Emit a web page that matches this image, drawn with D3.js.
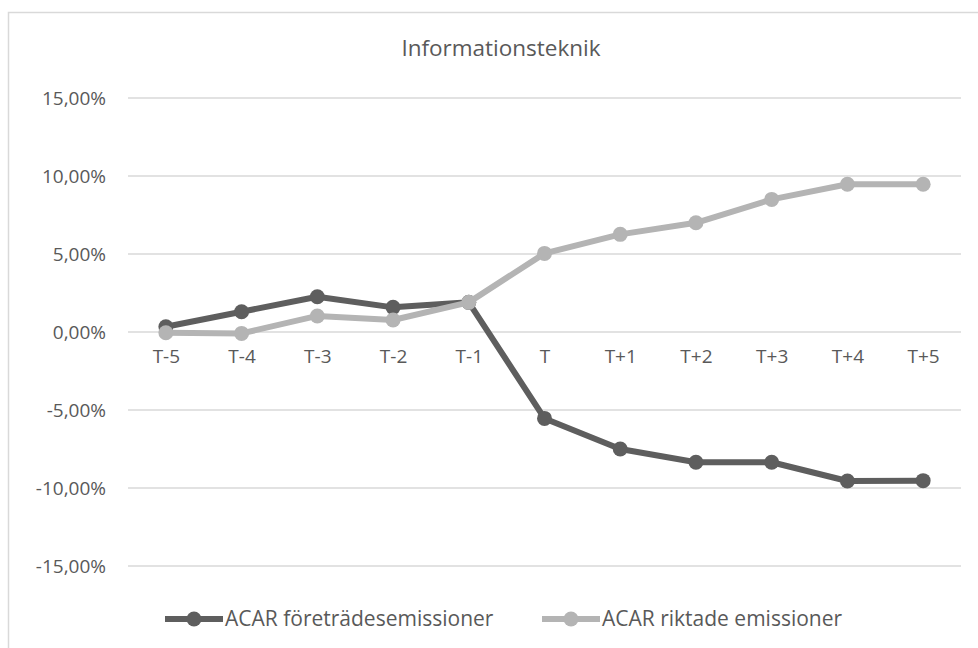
<!DOCTYPE html>
<html>
<head>
<meta charset="utf-8">
<script src="https://cdn.jsdelivr.net/npm/d3@7"></script>
<style>
    body { margin: 0; background: #fff; }
    text { font-family: "Open Sans", sans-serif; fill: #595959; }
</style>
</head>
<body>
<div id="box-div"></div>
<script>
// data
const categories = ['T-5', 'T-4', 'T-3', 'T-2', 'T-1', 'T', 'T+1', 'T+2', 'T+3', 'T+4', 'T+5']
const foretrade = [0.34, 1.30, 2.26, 1.58, 1.90, -5.54, -7.50, -8.35, -8.35, -9.55, -9.53]
const riktade = [-0.05, -0.09, 1.03, 0.77, 1.90, 5.04, 6.26, 7.00, 8.50, 9.47, 9.47]
const yTicks = [-15, -10, -5, 0, 5, 10, 15]
const seriesNames = ['ACAR företrädesemissioner', 'ACAR riktade emissioner']
const seriesColors = ['#5e5e5e', '#b4b4b4']
const title = 'Informationsteknik'

let dms = {
    width: 978,
    height: 648,
    plot: { left: 128, right: 961, top: 98, bottom: 566 }
}

const box = d3.select('#box-div').append('svg')
    .attr('width', dms.width)
    .attr('height', dms.height)

// chart border
box.append('rect')
    .attr('x', 8.5)
    .attr('y', 12.5)
    .attr('width', 1000)
    .attr('height', 700)
    .attr('fill', 'none')
    .attr('stroke', '#d9d9d9')
    .attr('stroke-width', 1.5)

box.append('text')
    .attr('x', 501)
    .attr('y', 56)
    .attr('text-anchor', 'middle')
    .style('font-size', '22.5px')
    .text(title)

const xScale = d3.scalePoint()
    .domain(categories)
    .range([dms.plot.left, dms.plot.right])
    .padding(0.5)

const yScale = d3.scaleLinear()
    .domain([-15, 15])
    .range([dms.plot.bottom, dms.plot.top])

// gridlines
box.append('g')
    .selectAll('line')
    .data(yTicks)
    .join('line')
    .attr('x1', dms.plot.left)
    .attr('x2', dms.plot.right)
    .attr('y1', d => yScale(d))
    .attr('y2', d => yScale(d))
    .attr('stroke', '#d9d9d9')
    .attr('stroke-width', 1.5)

const fmt = d => d3.format('.2f')(d).replace('.', ',').replace('−', '-') + '%'

const yAxis = box.append('g')
    .attr('transform', `translate(${dms.plot.left - 22}, 0)`)
    .call(d3.axisLeft(yScale).tickValues(yTicks).tickFormat(fmt).tickSize(0))
yAxis.select('.domain').remove()
yAxis.selectAll('text')
    .attr('fill', '#595959')
    .style('font-size', '19px')
    .attr('x', 0)

const xAxis = box.append('g')
    .attr('transform', `translate(0, ${yScale(0) + 25})`)
    .call(d3.axisBottom(xScale).tickSize(0))
xAxis.select('.domain').remove()
xAxis.selectAll('text')
    .attr('fill', '#595959')
    .style('font-size', '19px')
    .attr('y', 0)
    .attr('dy', '0.32em')

const series = [foretrade, riktade]
const line = d3.line()
    .x((d, i) => xScale(categories[i]))
    .y(d => yScale(d))

series.forEach((vals, k) => {
    const g = box.append('g')
    g.append('path')
        .attr('d', line(vals))
        .attr('fill', 'none')
        .attr('stroke', seriesColors[k])
        .attr('stroke-width', 6)
        .attr('stroke-linejoin', 'round')
    g.selectAll('circle')
        .data(vals)
        .join('circle')
        .attr('cx', (d, i) => xScale(categories[i]))
        .attr('cy', d => yScale(d))
        .attr('r', 7.5)
        .attr('fill', seriesColors[k])
})

// legend
const legendX = [165, 542]
const legend = box.append('g')
    .selectAll('g')
    .data(seriesNames)
    .join('g')
    .attr('transform', (d, i) => `translate(${legendX[i]}, 619)`)
legend.append('line')
    .attr('x1', 0).attr('x2', 58)
    .attr('stroke', (d, i) => seriesColors[i])
    .attr('stroke-width', 6)
legend.append('circle')
    .attr('cx', 29)
    .attr('r', 7.5)
    .attr('fill', (d, i) => seriesColors[i])
legend.append('text')
    .attr('x', 60)
    .attr('dy', '0.35em')
    .style('font-size', '21px')
    .text(d => d)
</script>
</body>
</html>
